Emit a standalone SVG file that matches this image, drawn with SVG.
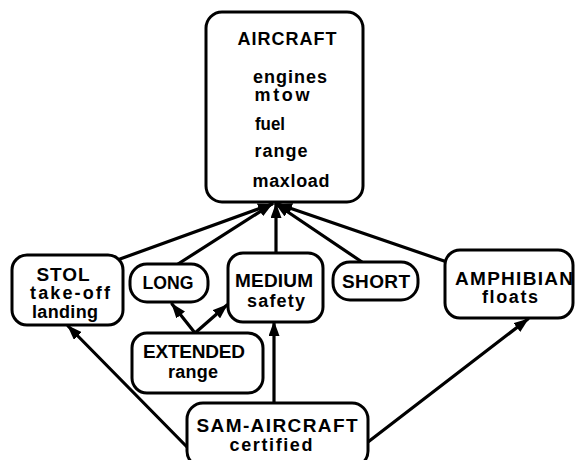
<svg xmlns="http://www.w3.org/2000/svg" width="576" height="460" viewBox="0 0 576 460">
<defs>
<style>
.box{fill:#fff;stroke:#000;stroke-width:3}
.t{font-family:"Liberation Sans",Arial,sans-serif;font-weight:bold;fill:#000;text-anchor:middle}
.h{font-size:19px}
.s{font-size:18px}
.e{fill:none;stroke:#000;stroke-width:3.2;stroke-linecap:round}
</style>
<marker id="ah" markerUnits="userSpaceOnUse" markerWidth="15" markerHeight="11" refX="14" refY="5.5" orient="auto">
<path d="M0,0 L15,5.5 L0,11 Z" fill="#000"/>
</marker>
</defs>
<g id="connectors">
<path class="e" d="M120,259 L272,204" marker-end="url(#ah)"/>
<path class="e" d="M178,264 L272,204" marker-end="url(#ah)"/>
<path class="e" d="M276,253 L276,204" marker-end="url(#ah)"/>
<path class="e" d="M362,262 L276,204" marker-end="url(#ah)"/>
<path class="e" d="M447,262 L278,204" marker-end="url(#ah)"/>
<path class="e" d="M195,333 L172,304" marker-end="url(#ah)"/>
<path class="e" d="M195,333 L227,305" marker-end="url(#ah)"/>
<path class="e" d="M274,403 L274,322" marker-end="url(#ah)"/>
<path class="e" d="M188,448 L68,326" marker-end="url(#ah)"/>
<path class="e" d="M368,442 L528,319" marker-end="url(#ah)"/>
</g>
<g id="aircraft">
<rect class="box" x="206" y="12" width="157" height="190" rx="16"/>
<text class="t" style="font-size:18px" x="287" y="45" textLength="99" lengthAdjust="spacing">AIRCRAFT</text>
<text class="t s" x="290" y="83" textLength="74" lengthAdjust="spacing">engines</text>
<text class="t s" x="282" y="101" textLength="55" lengthAdjust="spacing">mtow</text>
<text class="t s" x="270" y="130" textLength="30" lengthAdjust="spacingAndGlyphs">fuel</text>
<text class="t s" x="281" y="157" textLength="53" lengthAdjust="spacing">range</text>
<text class="t s" x="291" y="187" textLength="77" lengthAdjust="spacing">maxload</text>
</g>
<g id="stol">
<rect class="box" x="12" y="255" width="111" height="70" rx="15"/>
<text class="t h" x="63" y="281" textLength="53" lengthAdjust="spacing">STOL</text>
<text class="t s" x="70" y="299" textLength="80" lengthAdjust="spacing">take-off</text>
<text class="t s" x="65" y="318" textLength="66" lengthAdjust="spacing">landing</text>
</g>
<g id="long">
<rect class="box" x="130" y="264" width="78" height="38" rx="17"/>
<text class="t" style="font-size:18px" x="168" y="289" textLength="51" lengthAdjust="spacingAndGlyphs">LONG</text>
</g>
<g id="medium">
<rect class="box" x="228" y="253" width="95" height="69" rx="15"/>
<text class="t h" x="274" y="287" textLength="78" lengthAdjust="spacing">MEDIUM</text>
<text class="t s" x="276" y="307" textLength="58" lengthAdjust="spacing">safety</text>
</g>
<g id="short">
<rect class="box" x="333" y="262" width="85" height="38" rx="17"/>
<text class="t h" x="376" y="288" textLength="68" lengthAdjust="spacing">SHORT</text>
</g>
<g id="amphibian">
<rect class="box" x="445" y="250" width="128" height="68" rx="15"/>
<text class="t h" x="514" y="285" textLength="118" lengthAdjust="spacing">AMPHIBIAN</text>
<text class="t s" x="510" y="303" textLength="56" lengthAdjust="spacing">floats</text>
</g>
<g id="extended">
<rect class="box" x="132" y="333" width="131" height="60" rx="15"/>
<text class="t h" x="194" y="358" textLength="102" lengthAdjust="spacing">EXTENDED</text>
<text class="t s" x="193" y="378" textLength="50" lengthAdjust="spacing">range</text>
</g>
<g id="sam-aircraft">
<rect class="box" x="187" y="403" width="181" height="64" rx="16"/>
<text class="t h" x="277" y="432" textLength="161" lengthAdjust="spacing">SAM-AIRCRAFT</text>
<text class="t s" x="271" y="451" textLength="83" lengthAdjust="spacing">certified</text>
</g>
</svg>
